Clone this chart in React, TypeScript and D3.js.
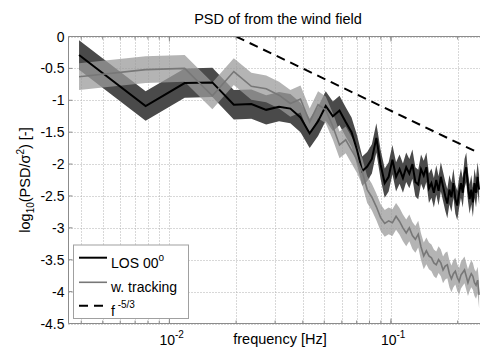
import React from 'react';
import * as d3 from 'd3';

// ---- data ----
const frequencies = [
  0.00391, 0.00781, 0.01172, 0.01563, 0.01953, 0.02344, 0.02734, 0.03125,
  0.03516, 0.03906, 0.04297, 0.04688, 0.05078, 0.05469, 0.05859, 0.0625,
  0.06641, 0.07031, 0.07422, 0.07813, 0.08203, 0.08594, 0.08984, 0.09375,
  0.09766, 0.10156, 0.10547, 0.10938, 0.11328, 0.11719, 0.12109, 0.125,
  0.12891, 0.13281, 0.13672, 0.14063, 0.14453, 0.14844, 0.15234, 0.15625,
  0.16016, 0.16406, 0.16797, 0.17188, 0.17578, 0.17969, 0.18359, 0.1875,
  0.19141, 0.19531, 0.19922, 0.20313, 0.20703, 0.21094, 0.21484, 0.21875,
  0.22266, 0.22656, 0.23047, 0.23438, 0.23828, 0.24219, 0.24609, 0.25,
];

const losPsd = [
  -0.29, -1.09, -0.73, -0.72, -1.07, -1.06, -1.15, -1.10,
  -1.13, -1.27, -1.52, -1.33, -1.09, -1.25, -1.16, -1.34,
  -1.50, -1.78, -2.11, -2.04, -1.92, -1.59, -2.01, -2.30,
  -2.20, -1.93, -2.20, -2.08, -2.22, -2.05, -2.15, -2.00,
  -2.28, -2.32, -2.08, -2.18, -2.05, -2.38, -2.30, -2.45,
  -2.25, -2.42, -2.20, -2.35, -2.50, -2.62, -2.40, -2.52,
  -2.30, -2.55, -2.65, -2.45, -2.30, -2.45, -2.15, -2.05,
  -2.35, -2.55, -2.40, -2.60, -2.30, -2.45, -2.20, -2.40,
];

const trackingPsd = [
  -0.63, -0.52, -0.50, -0.93, -0.55, -0.78, -0.82, -0.92,
  -1.05, -0.98, -1.34, -1.07, -1.15, -1.41, -1.70, -1.62,
  -1.78, -1.93, -2.12, -2.40, -2.52, -2.67, -2.84, -2.93,
  -2.89, -2.92, -2.82, -2.90, -3.00, -3.08, -3.00, -3.12,
  -3.18, -3.10, -3.30, -3.44, -3.36, -3.44, -3.47, -3.55,
  -3.58, -3.50, -3.55, -3.66, -3.60, -3.58, -3.72, -3.80,
  -3.72, -3.68, -3.78, -3.84, -3.74, -3.70, -3.66, -3.76,
  -3.86, -3.78, -3.72, -3.76, -3.86, -3.90, -3.82, -4.05,
];

// confidence band half-widths (log10 units)
const LOS_BAND = 0.23;
const TRACK_BAND = 0.21;

// f^-5/3 reference line: zero at f = 0.02, ends at 0.25
const refLineFreq = [0.02, 0.25];
const REF_EXPONENT = -5 / 3;
const REF_ANCHOR = 0.02;

const yTicks = [0, -0.5, -1, -1.5, -2, -2.5, -3, -3.5, -4, -4.5];
const yTickLabels = ['0', '-0.5', '-1', '-1.5', '-2', '-2.5', '-3', '-3.5', '-4', '-4.5'];
const xMajorTicks = [0.01, 0.1];
const xMajorExp = ['-2', '-1'];
const xDomain = [0.003504, 0.2714];
const yDomain = [-4.5, 0];

const legendLabels = ['LOS 00', 'w. tracking', 'f'];

// ---- layout ----
const W = 480;
const H = 349;
const L = 68.5;
const R = 487;
const T = 36.5;
const B = 323.5;
const FONT = '"Liberation Sans", Arial, Helvetica, sans-serif';

export default function App() {
  const x = d3.scaleLog().domain(xDomain).range([L, R]);
  const y = d3.scaleLinear().domain(yDomain).range([B, T]);

  // minor log ticks inside domain
  const minorTicks: number[] = [];
  for (let e = -3; e <= 0; e++) {
    for (let k = 1; k <= 9; k++) {
      const v = k * Math.pow(10, e);
      if (v >= xDomain[0] && v <= xDomain[1]) minorTicks.push(v);
    }
  }

  const idx = d3.range(frequencies.length);
  const areaLos = d3.area<number>()
    .x((i) => x(frequencies[i]))
    .y0((i) => y(losPsd[i] - LOS_BAND))
    .y1((i) => y(losPsd[i] + LOS_BAND));
  const areaTrk = d3.area<number>()
    .x((i) => x(frequencies[i]))
    .y0((i) => y(trackingPsd[i] - TRACK_BAND))
    .y1((i) => y(trackingPsd[i] + TRACK_BAND));
  const lineLos = d3.line<number>().x((i) => x(frequencies[i])).y((i) => y(losPsd[i]));
  const lineTrk = d3.line<number>().x((i) => x(frequencies[i])).y((i) => y(trackingPsd[i]));
  const refLine = d3.line<number>()
    .x((f) => x(f))
    .y((f) => y(REF_EXPONENT * Math.log10(f / REF_ANCHOR)));

  const gridColor = '#b0b0b0';
  const axisColor = '#8c8c8c';

  const legX = 73.5;
  const legY = 245;
  const legRows = [257.7, 282.3, 305.7];

  return (
    <svg
      width={W}
      height={H}
      viewBox={`0 0 ${W} ${H}`}
      style={{ position: 'absolute', left: 0, top: 0, background: '#fff' }}
      fontFamily={FONT}
    >
      <defs>
        <clipPath id="plotClip">
          <rect x={L} y={T} width={R - L} height={B - T} />
        </clipPath>
      </defs>
      <rect x={0} y={0} width={W} height={H} fill="#fff" />

      {/* grid */}
      <g stroke={gridColor} strokeWidth={1} strokeDasharray="1,2">
        {minorTicks.map((v, i) => (
          <line key={'gx' + i} x1={Math.round(x(v)) + 0.5} x2={Math.round(x(v)) + 0.5} y1={T} y2={B} />
        ))}
        {yTicks.map((v, i) => (
          <line key={'gy' + i} x1={L} x2={R} y1={Math.round(y(v)) + 0.5} y2={Math.round(y(v)) + 0.5} />
        ))}
      </g>

      {/* data */}
      <g clipPath="url(#plotClip)">
        <path d={areaLos(idx) || ''} fill="#4a4a4a" />
        <path d={areaTrk(idx) || ''} fill="rgb(155,155,155)" fillOpacity={0.75} />
        <path d={lineLos(idx) || ''} fill="none" stroke="#000" strokeWidth={2} strokeLinejoin="miter" />
        <path d={lineTrk(idx) || ''} fill="none" stroke="#777" strokeWidth={1.6} />
        <path d={refLine(refLineFreq) || ''} fill="none" stroke="#000" strokeWidth={2} strokeDasharray="9,6" />
      </g>

      {/* axes box */}
      <g stroke={axisColor} strokeWidth={1} fill="none">
        <line x1={L} x2={R} y1={T} y2={T} />
        <line x1={L} x2={R} y1={B} y2={B} />
        <line x1={L} x2={L} y1={T} y2={B} />
        {yTicks.map((v, i) => (
          <line key={'ty' + i} x1={L} x2={L + 4} y1={y(v)} y2={y(v)} />
        ))}
        {minorTicks.map((v, i) => (
          <g key={'tx' + i}>
            <line x1={x(v)} x2={x(v)} y1={B} y2={B - 3} />
            <line x1={x(v)} x2={x(v)} y1={T} y2={T + 3} />
          </g>
        ))}
        {xMajorTicks.map((v, i) => (
          <g key={'tM' + i}>
            <line x1={x(v)} x2={x(v)} y1={B} y2={B - 5} />
            <line x1={x(v)} x2={x(v)} y1={T} y2={T + 5} />
          </g>
        ))}
      </g>

      {/* y tick labels */}
      <g fontSize={14} fill="#000" textAnchor="end">
        {yTicks.map((v, i) => (
          <text key={'yl' + i} x={L - 4} y={y(v) + 5}>{yTickLabels[i]}</text>
        ))}
      </g>

      {/* x tick labels */}
      <g fontSize={14} fill="#000">
        {xMajorTicks.map((v, i) => (
          <text key={'xl' + i} x={x(v) - 10} y={345}>
            10<tspan fontSize={10} dy={-7}>{xMajorExp[i]}</tspan>
          </text>
        ))}
      </g>

      {/* title & labels */}
      <text x={278} y={24} fontSize={14.5} textAnchor="middle" fill="#000">PSD of from the wind field</text>
      <text x={280} y={344} fontSize={14.5} textAnchor="middle" fill="#000">frequency [Hz]</text>
      <text transform={`translate(30,${(T + B) / 2}) rotate(-90)`} fontSize={14.5} textAnchor="middle" fill="#000">
        log<tspan fontSize={10} dy={4}>10</tspan><tspan dy={-4}>(PSD/σ</tspan><tspan fontSize={10} dy={-6}>2</tspan><tspan dy={6}>) [-]</tspan>
      </text>

      {/* legend */}
      <rect x={legX} y={legY} width={115} height={73.5} fill="#fff" stroke="#a0a0a0" strokeWidth={1} />
      <line x1={79} x2={107} y1={legRows[0]} y2={legRows[0]} stroke="#000" strokeWidth={2} />
      <line x1={79} x2={107} y1={legRows[1]} y2={legRows[1]} stroke="#777" strokeWidth={1.6} />
      <line x1={79} x2={107} y1={legRows[2]} y2={legRows[2]} stroke="#000" strokeWidth={2} strokeDasharray="9,6" />
      <g fontSize={14} fill="#000">
        <text x={111} y={legRows[0] + 10}>{legendLabels[0]}<tspan fontSize={10} dy={-7}>o</tspan></text>
        <text x={111} y={legRows[1] + 10}>{legendLabels[1]}</text>
        <text x={111} y={legRows[2] + 10}>{legendLabels[2]}<tspan fontSize={10} dy={-8}>{' -5/3'}</tspan></text>
      </g>
    </svg>
  );
}
